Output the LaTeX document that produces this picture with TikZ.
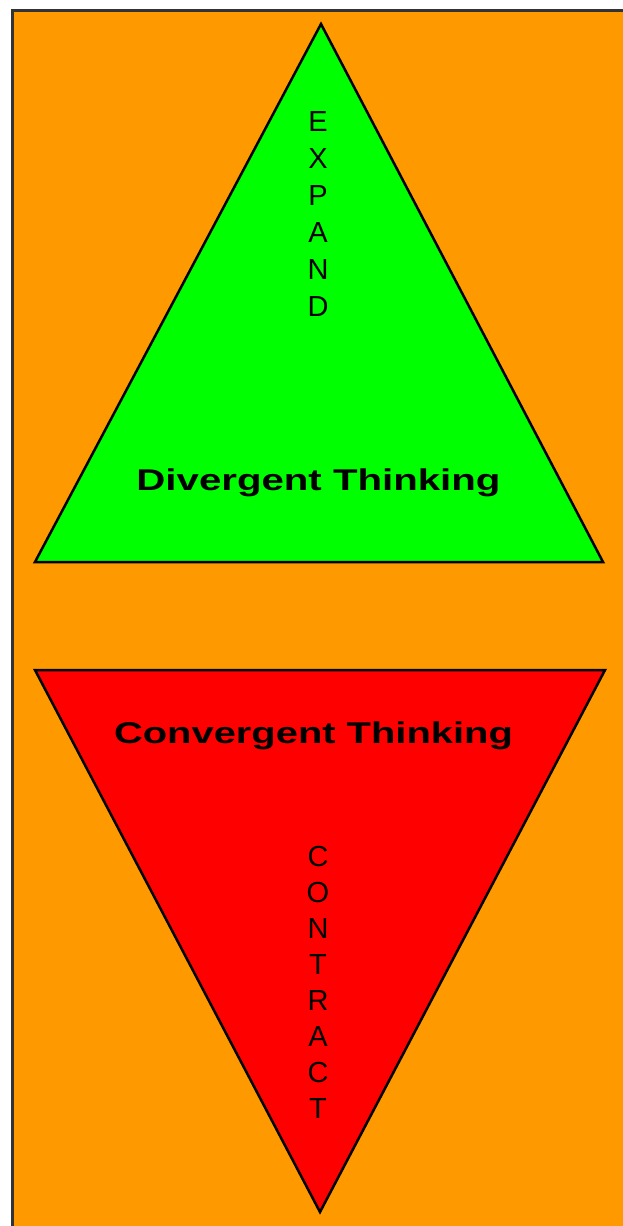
\documentclass[tikz,border=0pt]{standalone}
\usepackage{fontspec}
\setmainfont{Liberation Sans}
\definecolor{bgorange}{HTML}{FF9900}
\definecolor{tgreen}{HTML}{00FF00}
\definecolor{tred}{HTML}{FF0000}
\begin{document}
\begin{tikzpicture}[x=1pt,y=-1pt,
  tri/.style={draw=black,line width=2.5pt,line join=miter},
  letter/.style={font=\fontsize{29}{35}\selectfont,anchor=base,inner sep=0pt},
  title/.style={font=\fontsize{30}{35}\selectfont\bfseries,anchor=base,inner sep=0pt}]
\useasboundingbox (0,0) rectangle (623,1226);
\fill[white] (0,0) rectangle (623,1226);
\fill[bgorange] (12,10) rectangle (623,1226);
\draw[line width=3pt,color=black!80] (12,1226) -- (12,10) -- (623,10);
% triangles
\coordinate (gA) at (321,24);
\coordinate (gL) at (35,562);
\coordinate (gR) at (603,562);
\filldraw[tri,fill=tgreen] (gA) -- (gR) -- (gL) -- cycle;
\coordinate (rA) at (320,1212);
\coordinate (rL) at (35,670);
\coordinate (rR) at (605,670);
\filldraw[tri,fill=tred] (rL) -- (rR) -- (rA) -- cycle;
% vertical words
\foreach \ch [count=\i from 0] in {E,X,P,A,N,D}
  \node[letter] (ex\i) at (318,{131+37*\i}) {\ch};
\foreach \ch [count=\i from 0] in {C,O,N,T,R,A,C,T}
  \node[letter] (co\i) at (318,{866+36*\i}) {\ch};
% titles
\node[title] (div) at (318.5,490) {\scalebox{1.34}[1]{Divergent Thinking}};
\node[title] (conv) at (313.5,743) {\scalebox{1.33}[1]{Convergent Thinking}};
\end{tikzpicture}
\end{document}
